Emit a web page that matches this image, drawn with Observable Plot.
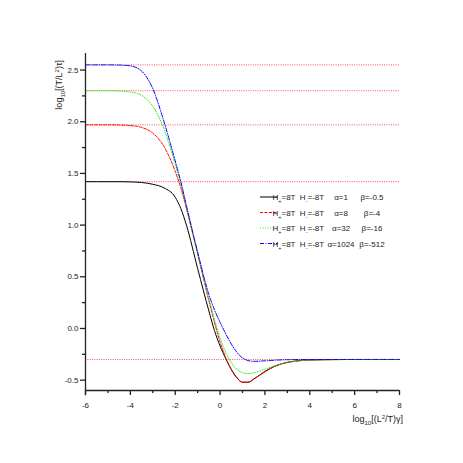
<!DOCTYPE html>
<html><head><meta charset="utf-8">
<script src="https://cdn.jsdelivr.net/npm/d3@7"></script>
<script src="https://cdn.jsdelivr.net/npm/@observablehq/plot@0.6"></script>
<style>
body{margin:0;background:#fff}
svg{font-family:"Liberation Sans Narrow","Liberation Sans",Arial,sans-serif}
</style>
</head><body><div id="chart"></div>
<script>
// x positions: log10[(L^2/T)γ]
const xs = [-6,-5,-4.5,-4,-3.5,-3,-2.5,-2,-1.75,-1.5,-1,-0.5,-0.25,0,0.25,0.5,0.75,1,1.25,1.5,2,2.5,3,3.5,4,5,6,7,8];
// y values: log10[(T/L^2)τ]
const alpha1 =    [1.42,1.42,1.42,1.418,1.412,1.395,1.36,1.27,1.16,1.0,0.58,0.17,-0.02,-0.17,-0.29,-0.395,-0.475,-0.52,-0.52,-0.49,-0.415,-0.36,-0.328,-0.312,-0.305,-0.301,-0.30,-0.30,-0.30];
const alpha8 =    [1.97,1.97,1.968,1.963,1.945,1.89,1.76,1.52,1.36,1.16,0.72,0.27,0.06,-0.13,-0.28,-0.40,-0.48,-0.52,-0.52,-0.49,-0.42,-0.36,-0.328,-0.312,-0.305,-0.301,-0.30,-0.30,-0.30];
const alpha32 =   [2.30,2.30,2.297,2.288,2.255,2.15,1.93,1.59,1.40,1.17,0.72,0.29,0.09,-0.09,-0.23,-0.33,-0.395,-0.428,-0.436,-0.43,-0.395,-0.355,-0.33,-0.315,-0.307,-0.302,-0.30,-0.30,-0.30];
const alpha1024 = [2.55,2.55,2.548,2.54,2.49,2.32,2.00,1.62,1.42,1.19,0.74,0.33,0.18,0.06,-0.05,-0.15,-0.23,-0.285,-0.31,-0.318,-0.313,-0.306,-0.302,-0.30,-0.30,-0.30,-0.30,-0.30,-0.30];
const refLines = [2.55, 2.30, 1.97, 1.42, -0.30];

const seriesNames = ["α=1","α=8","α=32","α=1024"];
const seriesValues = [alpha1, alpha8, alpha32, alpha1024];
const legendAlpha = ["α=1","α=8","α=32","α=1024"];
const legendBeta = ["β=-0.5","β=-4","β=-16","β=-512"];
const colors = ["#000000","#ff0000","#22ee22","#0000ff"];
const dashes = [null,"3,1.5","1,1.6","4,1.5,1,1.5"];

const yMajor = [-0.5,0,0.5,1,1.5,2,2.5];
const yMinor = [-0.25,0.25,0.75,1.25,1.75,2.25];
const xMajor = [-6,-4,-2,0,2,4,6,8];
const xMinor = [-5,-3,-1,1,3,5,7];

const lineMarks = seriesValues.map((vals,i) =>
  Plot.line(xs.map((x,j)=>({x, y: vals[j]})), {x:"x", y:"y", stroke: colors[i], strokeWidth: 1, strokeDasharray: dashes[i], curve: "monotone-x"})
);

const chart = Plot.plot({
  width: 463, height: 463,
  marginLeft: 85, marginRight: 64, marginTop: 53, marginBottom: 73,
  x: {domain: [-6, 8]},
  y: {domain: [-0.6, 2.66]},
  style: {fontSize: "8px", color: "#222", background: "#fff"},
  marks: [
    Plot.ruleY(refLines, {stroke: "#ff3333", strokeWidth: 1, strokeDasharray: "1,1.3", strokeOpacity: 0.85}),
    ...lineMarks,
    Plot.ruleX([-6], {y1: -0.65, y2: 2.66, stroke: "#222", strokeWidth: 1.3}),
    Plot.ruleY([-0.6], {stroke: "#222", strokeWidth: 1.3}),
    Plot.axisY({ticks: yMajor, tickSize: 5, tickFormat: d => d.toFixed(1), tickPadding: 2, label: null, strokeWidth: 1.3}),
    Plot.axisY({ticks: yMinor, tickSize: 3, tickFormat: () => "", label: null, strokeWidth: 1.3}),
    Plot.axisX({ticks: xMajor, tickSize: 5, tickFormat: d => String(d), tickPadding: 7, label: null, strokeWidth: 1.3}),
    Plot.axisX({ticks: xMinor, tickSize: 3, tickFormat: () => "", label: null, strokeWidth: 1.3})
  ]
});
document.getElementById("chart").appendChild(chart);

const svg = d3.select(chart);
// Axis titles
const xl = svg.append("text").attr("x", 403).attr("y", 422).attr("text-anchor", "end")
  .attr("font-size", 9).attr("fill", "#222");
xl.append("tspan").text("log");
xl.append("tspan").attr("font-size", 6).attr("dy", 2.5).text("10");
xl.append("tspan").attr("dy", -2.5).text("[(L");
xl.append("tspan").attr("font-size", 6).attr("dy", -3.5).text("2");
xl.append("tspan").attr("dy", 3.5).text("/T)γ]");

const yl = svg.append("text").attr("transform", "translate(62,60) rotate(-90)").attr("text-anchor", "end")
  .attr("font-size", 9).attr("fill", "#222");
yl.append("tspan").text("log");
yl.append("tspan").attr("font-size", 6).attr("dy", 2.5).text("10");
yl.append("tspan").attr("dy", -2.5).text("[(T/L");
yl.append("tspan").attr("font-size", 6).attr("dy", -3.5).text("2");
yl.append("tspan").attr("dy", 3.5).text(")τ]");

// Legend
const lg = svg.append("g").attr("font-size", 8).attr("fill", "#222");
seriesNames.forEach((name, i) => {
  const y = 197 + i * 15.5;
  lg.append("line").attr("x1", 260).attr("x2", 278).attr("y1", y).attr("y2", y)
    .attr("stroke", colors[i]).attr("stroke-width", 1).attr("stroke-dasharray", dashes[i]);
  const t1 = lg.append("text").attr("x", 284).attr("y", y + 3);
  t1.append("tspan").text("H");
  t1.append("tspan").attr("font-size", 5.5).attr("dy", 3).text("+");
  t1.append("tspan").attr("dy", -3).text("=8T");
  const t2 = lg.append("text").attr("x", 312).attr("y", y + 3);
  t2.append("tspan").text("H");
  t2.append("tspan").attr("font-size", 5.5).attr("dy", 3).text("-");
  t2.append("tspan").attr("dy", -3).text("=-8T");
  lg.append("text").attr("x", 341).attr("y", y + 3).text(legendAlpha[i]);
  lg.append("text").attr("x", 372).attr("y", y + 3).text(legendBeta[i]);
});
</script></body></html>
